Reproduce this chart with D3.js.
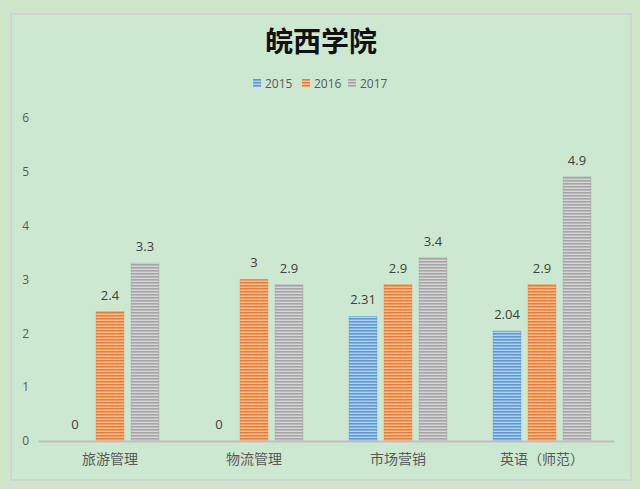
<!DOCTYPE html>
<html><head><meta charset="utf-8">
<script src="https://cdn.jsdelivr.net/npm/d3@7"></script>
<style>html,body{margin:0;padding:0;background:#cfe6c9;}svg{display:block;}</style>
</head><body>
<svg id="c" width="640" height="489"></svg>
<script>
const title = "皖西学院";
const categories = ["旅游管理", "物流管理", "市场营销", "英语（师范）"];
const seriesNames = ["2015", "2016", "2017"];
const values2015 = [0, 0, 2.31, 2.04];
const values2016 = [2.4, 3, 2.9, 2.9];
const values2017 = [3.3, 2.9, 3.4, 4.9];
const valueLabels2015 = ["0", "0", "2.31", "2.04"];
const valueLabels2016 = ["2.4", "3", "2.9", "2.9"];
const valueLabels2017 = ["3.3", "2.9", "3.4", "4.9"];
const yTicks = [0, 1, 2, 3, 4, 5, 6];

const seriesValues = [values2015, values2016, values2017];
const seriesLabels = [valueLabels2015, valueLabels2016, valueLabels2017];
const colors = [
  {dark:"#5b9bd5", mid:"#7fb0e0", light:"#b4d0ee"},
  {dark:"#ed7d31", mid:"#f29a5e", light:"#f8c39c"},
  {dark:"#a5a5a5", mid:"#b8b8b8", light:"#d6d6d6"}
];

const svg = d3.select("#c");
const defs = svg.append("defs");
colors.forEach((c, i) => {
  const p = defs.append("pattern").attr("id", "pat" + i)
    .attr("patternUnits", "userSpaceOnUse").attr("width", 4).attr("height", 3);
  p.append("rect").attr("width", 4).attr("height", 3).attr("fill", c.mid);
  p.append("rect").attr("y", 0).attr("width", 4).attr("height", 1).attr("fill", c.dark);
  p.append("rect").attr("y", 2).attr("width", 4).attr("height", 1).attr("fill", c.light);
});

// chart area
svg.append("rect").attr("x", 11).attr("y", 14).attr("width", 620).attr("height", 466)
  .attr("fill", "#cde8d0").attr("stroke", "#d3d3d3").attr("stroke-width", 2);

const x0 = d3.scaleBand().domain(categories).range([38, 614]);
const x1 = d3.scaleBand().domain(seriesNames).range([x0.bandwidth()/2 - 49, x0.bandwidth()/2 + 49]).paddingInner(0.2);
const y = d3.scaleLinear().domain([0, 6]).range([441, 117.5]);

// y tick labels
const yAxis = d3.axisLeft(y).tickValues(yTicks).tickSize(0).tickPadding(0).tickFormat(d3.format("d"));
const ya = svg.append("g").attr("transform", "translate(29,0)").call(yAxis);
ya.select(".domain").remove();
ya.selectAll("text").attr("fill", "#595959").style("font-family", "'Open Sans', 'Noto Sans', sans-serif").style("font-size", "12px");

// bars
seriesNames.forEach((s, si) => {
  const g = svg.append("g");
  categories.forEach((cat, ci) => {
    const v = seriesValues[si][ci];
    const bx = x0(cat) + x1(s);
    if (v > 0) {
      g.append("rect").attr("x", bx).attr("y", y(v)).attr("width", x1.bandwidth())
        .attr("height", y(0) - y(v)).attr("fill", "url(#pat" + si + ")")
        .attr("stroke", colors[si].dark).attr("stroke-width", 0.6).attr("stroke-opacity", 0.6);
    }
    g.append("text").attr("x", bx + x1.bandwidth()/2).attr("y", y(v) - 12)
      .attr("text-anchor", "middle").attr("fill", "#404040")
      .style("font-family", "'Open Sans', 'Noto Sans', sans-serif").style("font-size", "13px")
      .text(seriesLabels[si][ci]);
  });
});

// x axis
const xAxis = d3.axisBottom(x0).tickSize(0).tickPadding(13);
const xa = svg.append("g").attr("transform", "translate(0,441)").call(xAxis);
xa.select(".domain").attr("stroke", "#bfbfbf").attr("stroke-width", 2);
xa.selectAll("text").attr("fill", "#595959").style("font-family", "'Noto Sans CJK SC', sans-serif").style("font-size", "14px");

// title
svg.append("text").attr("x", 321).attr("y", 52).attr("text-anchor", "middle")
  .attr("fill", "#111").style("font-family", "'Noto Sans CJK SC', serif").style("font-weight", "bold")
  .style("font-size", "28px").text(title);

// legend
const legendX = [253, 302, 348];
seriesNames.forEach((s, si) => {
  const lg = svg.append("g").attr("transform", `translate(${legendX[si]},79)`);
  lg.append("rect").attr("width", 8).attr("height", 8).attr("fill", "url(#pat" + si + ")");
  lg.append("text").attr("x", 12).attr("y", 8.5).attr("fill", "#595959")
    .style("font-family", "'Open Sans', 'Noto Sans', sans-serif").style("font-size", "12px").text(s);
});
</script>
</body></html>
